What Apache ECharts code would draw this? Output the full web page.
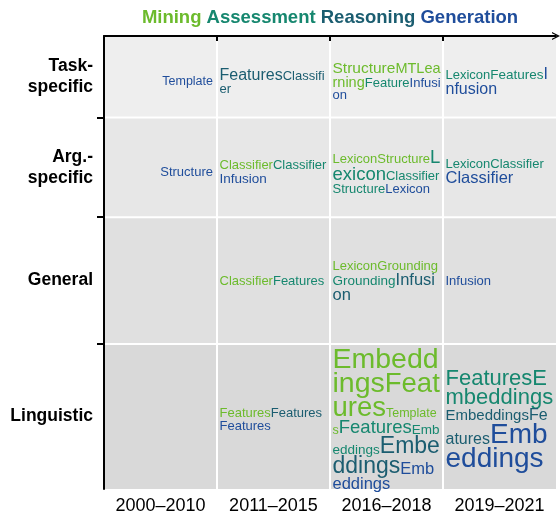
<!DOCTYPE html>
<html>
<head>
<meta charset="utf-8">
<script src="https://cdn.jsdelivr.net/npm/echarts@6/dist/echarts.min.js"></script>
<style>
html, body { margin: 0; padding: 0; background: #ffffff; }
#chart { width: 560px; height: 517px; }
</style>
</head>
<body>
<div id="chart"></div>
<script>
// ---------------- data ----------------
const periods = ['2000–2010', '2011–2015', '2016–2018', '2019–2021'];
const scopes = ['Task-\nspecific', 'Arg.-\nspecific', 'General', 'Linguistic'];
const scopeShare = [18, 22, 28, 32];            // share of the vertical extent per scope (%)
const categories = ['Mining', 'Assessment', 'Reasoning', 'Generation'];

// each word: [period index, word, category index, weight]
const taskSpecificWords = [
  [0, 'Template', 3, 1],
  [1, 'Features', 2, 8],
  [1, 'Classifier', 2, 2],
  [2, 'Structure', 0, 7],
  [2, 'MTLearning', 0, 5],
  [2, 'Feature', 1, 2],
  [2, 'Infusion', 3, 2],
  [3, 'Lexicon', 1, 2],
  [3, 'Features', 1, 3],
  [3, 'Infusion', 3, 8]
];
const argSpecificWords = [
  [0, 'Structure', 3, 2],
  [1, 'Classifier', 0, 2],
  [1, 'Classifier', 1, 2],
  [1, 'Infusion', 3, 3],
  [2, 'Lexicon', 0, 2],
  [2, 'Structure', 0, 2],
  [2, 'Lexicon', 1, 13],
  [2, 'Classifier', 1, 2],
  [2, 'Structure', 1, 2],
  [2, 'Lexicon', 3, 2],
  [3, 'Lexicon', 1, 2],
  [3, 'Classifier', 1, 2],
  [3, 'Classifier', 3, 9]
];
const generalWords = [
  [1, 'Classifier', 0, 2],
  [1, 'Features', 1, 2],
  [2, 'Lexicon', 0, 2],
  [2, 'Grounding', 0, 2],
  [2, 'Grounding', 1, 3],
  [2, 'Infusion', 2, 9],
  [3, 'Infusion', 3, 2]
];
const linguisticWords = [
  [1, 'Features', 0, 2],
  [1, 'Features', 2, 2],
  [1, 'Features', 3, 2],
  [2, 'Embeddings', 0, 33],
  [2, 'Features', 0, 31],
  [2, 'Templates', 0, 1],
  [2, 'Features', 1, 13],
  [2, 'Embeddings', 1, 3],
  [2, 'Embeddings', 2, 22],
  [2, 'Embeddings', 3, 9],
  [3, 'Features', 1, 20],
  [3, 'Embeddings', 1, 20],
  [3, 'Embeddings', 2, 6],
  [3, 'Features', 2, 8],
  [3, 'Embeddings', 3, 32]
];

// ---------------- styling / layout helpers ----------------
const FONT = '"Liberation Sans", Arial, Helvetica, sans-serif';
const catColors = ['#6cbb2c', '#16876f', '#1b5d70', '#1f4d9b'];
const rowFills = ['#eeeeee', '#e7e7e7', '#e0e0e0', '#d9d9d9'];
const rowTextShift = [3.5, 3.2, -1, 0.8];
const rowWords = [taskSpecificWords, argSpecificWords, generalWords, linguisticWords];
const sizeOf = w => 12 + 0.5 * w;          // weight -> font size scale
const lineHeightOf = fs => 0.75 * fs + 3;
const GRID = { left: 104, right: 4, top: 36, bottom: 28 };
const CHART_W = 560;
const WRAP_W = 109;
const MIDDLE_K = 0.3465;

const rowStart = scopeShare.map((s, i) => scopeShare.slice(0, i).reduce((a, b) => a + b, 0));
const rowCenter = rowStart.map((s, i) => s + scopeShare[i] / 2);
const periodCenters = periods.map((p, i) => i + 0.5);
const periodEdges = periods.map((p, i) => i);

const cells = [];
scopes.forEach((s, r) => periods.forEach((p, c) => cells.push([c, r])));

const measureCtx = document.createElement('canvas').getContext('2d');
function textWidth(str, font) { measureCtx.font = font; return measureCtx.measureText(str).width; }

// break the words of one cell into lines (character-level breaking)
function layoutWords(words, maxW) {
  const lines = [];
  let line;
  const newLine = () => { line = { frags: [], width: 0, maxFs: 0 }; lines.push(line); };
  newLine();
  words.forEach(w => {
    const fs = sizeOf(w[3]);
    const font = fs + 'px ' + FONT;
    const color = catColors[w[2]];
    let frag = null;
    for (const ch of w[1]) {
      const cw = textWidth(ch, font);
      if (maxW != null && line.width > 0 && line.width + cw > maxW) { newLine(); frag = null; }
      if (!frag) { frag = { text: '', font: font, fs: fs, color: color }; line.frags.push(frag); }
      frag.text += ch;
      line.width += cw;
      line.maxFs = Math.max(line.maxFs, fs);
    }
  });
  return lines;
}

function renderCell(params, api) {
  const c = api.value(0), r = api.value(1);
  const p0 = api.coord([c, rowStart[r]]);
  const p1 = api.coord([c + 1, rowStart[r] + scopeShare[r]]);
  const x0 = p0[0] + (c > 0 ? 1 : 0);
  const x1 = p1[0] - (c < periods.length - 1 ? 1 : 0);
  const y0 = p0[1] + (r > 0 ? 1 : 0);
  const y1 = p1[1] - (r < scopes.length - 1 ? 1 : 0);
  const children = [{
    type: 'rect',
    shape: { x: x0, y: y0, width: x1 - x0, height: y1 - y0 },
    style: { fill: rowFills[r] }
  }];
  const words = rowWords[r].filter(w => w[0] === c);
  if (words.length) {
    const first = c === 0;
    const lines = layoutWords(words, first ? null : WRAP_W);
    const lh = lines.map(l => lineHeightOf(l.maxFs));
    const H = lh.reduce((a, b) => a + b, 0);
    let lineBottom = (y0 + y1) / 2 + rowTextShift[r] - H / 2;
    lines.forEach((l, i) => {
      lineBottom += lh[i];
      const widths = l.frags.map(f => textWidth(f.text, f.font));
      const lw = widths.reduce((a, b) => a + b, 0);
      let x = first ? x1 - 3 - lw : x0 + 1.5;
      l.frags.forEach((f, j) => {
        children.push({
          type: 'text',
          style: {
            text: f.text, x: x, y: lineBottom - MIDDLE_K * f.fs,
            font: f.font, fill: f.color, align: 'left', verticalAlign: 'middle'
          }
        });
        x += widths[j];
      });
    });
  }
  return { type: 'group', children: children };
}

const titleText = categories.map((c, i) => '{c' + i + '|' + c + '}').join(' ');
const titleWidth = textWidth(categories.join(' '), 'bold 18.5px ' + FONT);
const plotCenterX = GRID.left + (CHART_W - GRID.left - GRID.right) / 2;

const chart = echarts.init(document.getElementById('chart'), null, { renderer: 'canvas' });
chart.setOption({
  animation: false,
  backgroundColor: '#ffffff',
  title: {
    text: titleText,
    left: plotCenterX - titleWidth / 2,
    top: 8,
    padding: 0,
    textStyle: {
      fontFamily: FONT, fontSize: 18.5, fontWeight: 'bold', color: '#000',
      rich: Object.fromEntries(categories.map((c, i) => ['c' + i, {
        color: catColors[i], fontFamily: FONT, fontSize: 18.5, fontWeight: 'bold'
      }]))
    }
  },
  grid: { left: GRID.left, right: GRID.right, top: GRID.top, bottom: GRID.bottom, containLabel: false },
  xAxis: {
    type: 'value', min: 0, max: periods.length, z: 5,
    splitLine: { show: false },
    axisLine: {
      show: true,
      lineStyle: { color: '#000', width: 2 },
      symbol: ['none', 'path://M0,10 L5,0 L10,10 L8.4,10 L5,3.2 L1.6,10 Z'],
      symbolSize: [8, 8],
      symbolOffset: [0, 0]
    },
    axisTick: { show: true, length: 5, customValues: periodEdges, lineStyle: { color: '#000', width: 2 } },
    axisLabel: {
      customValues: periodCenters,
      formatter: v => periods[Math.floor(v)],
      fontFamily: FONT, fontSize: 18, color: '#000', margin: 8
    }
  },
  yAxis: {
    type: 'value', min: 0, max: 100, inverse: true, z: 5,
    splitLine: { show: false },
    axisLine: { show: true, lineStyle: { color: '#000', width: 2 } },
    axisTick: { show: true, length: 7, customValues: rowStart.slice(1), lineStyle: { color: '#000', width: 2 } },
    axisLabel: {
      customValues: rowCenter,
      formatter: v => scopes[rowCenter.indexOf(v)],
      fontFamily: FONT, fontSize: 17.5, fontWeight: 'bold', color: '#000',
      lineHeight: 21, margin: 11, align: 'right'
    }
  },
  series: [{
    type: 'custom',
    coordinateSystem: 'cartesian2d',
    renderItem: renderCell,
    data: cells,
    silent: true,
    clip: false,
    z: 1
  }]
});
</script>
</body>
</html>
